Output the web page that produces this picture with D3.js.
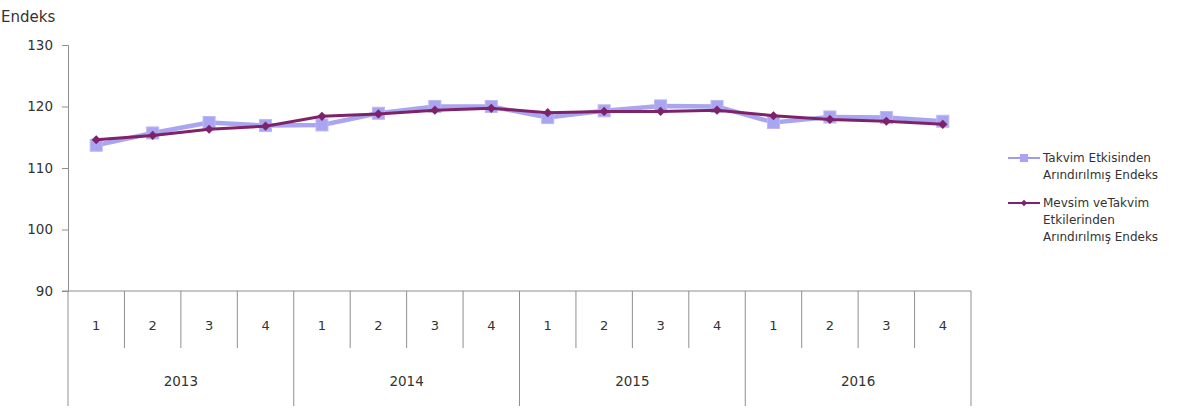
<!DOCTYPE html>
<html>
<head>
<meta charset="utf-8">
<script src="https://cdn.jsdelivr.net/npm/d3@7/dist/d3.min.js"></script>
<style>
  html, body { margin: 0; padding: 0; background: #fff; }
  svg { display: block; }
  text { font-family: "DejaVu Sans", Verdana, sans-serif; fill: #333; }
</style>
</head>
<body>
<svg id="chart" width="1200" height="410"></svg>
<script>
// ---- data ----
const quarters = ["1","2","3","4","1","2","3","4","1","2","3","4","1","2","3","4"];
const years = ["2013","2014","2015","2016"];
const takvimValues = [113.7, 115.7, 117.4, 116.9, 117.0, 118.9, 120.0, 120.0, 118.2, 119.3, 120.1, 120.0, 117.4, 118.3, 118.2, 117.6];
const mevsimValues = [114.6, 115.3, 116.3, 116.8, 118.4, 118.8, 119.4, 119.7, 119.0, 119.2, 119.2, 119.4, 118.5, 117.9, 117.6, 117.1];
const yTicks = [90, 100, 110, 120, 130];
const yTitle = "Endeks";
const seriesNames = [
  ["Takvim Etkisinden", "Arındırılmış Endeks"],
  ["Mevsim veTakvim", "Etkilerinden", "Arındırılmış Endeks"]
];

// ---- layout ----
const svg = d3.select("#chart");
const plotLeft = 68, plotRight = 971, plotTop = 45, plotBottom = 291;
const idx = d3.range(quarters.length);

const x = d3.scaleBand().domain(idx).range([plotLeft, plotRight]).padding(0);
const y = d3.scaleLinear().domain([90, 130]).range([plotBottom, plotTop]);

const axisColor = "#8f8f8f";
const fontFam = "DejaVu Sans, Verdana, sans-serif";

// y axis
const yAxis = svg.append("g").attr("transform", `translate(${plotLeft},0)`)
  .call(d3.axisLeft(y).tickValues(yTicks).tickSize(6).tickPadding(9));
yAxis.select(".domain").attr("stroke", axisColor);
yAxis.selectAll(".tick line").attr("stroke", axisColor);
yAxis.selectAll(".tick text").attr("font-size", 13.5).attr("fill", "#333")
  .style("font-family", fontFam);

svg.append("text").attr("x", 1).attr("y", 22).attr("font-size", 15).text(yTitle);

// x axis baseline
svg.append("line").attr("x1", plotLeft - 6).attr("x2", plotRight).attr("y1", plotBottom).attr("y2", plotBottom)
  .attr("stroke", axisColor);

// category separators
const shortBottom = 348, longBottom = 406;
idx.forEach(i => {
  const xs = x(i);
  const isYear = i % 4 === 0;
  svg.append("line").attr("x1", xs).attr("x2", xs).attr("y1", plotBottom)
    .attr("y2", isYear ? longBottom : shortBottom).attr("stroke", axisColor);
});
svg.append("line").attr("x1", plotRight).attr("x2", plotRight).attr("y1", plotBottom).attr("y2", longBottom)
  .attr("stroke", axisColor);

// quarter labels
svg.append("g").selectAll("text").data(quarters).join("text")
  .attr("x", (d, i) => x(i) + x.bandwidth() / 2)
  .attr("y", 330).attr("text-anchor", "middle").attr("font-size", 13).text(d => d);

// year labels
svg.append("g").selectAll("text").data(years).join("text")
  .attr("x", (d, j) => (x(j * 4) + x(j * 4 + 3) + x.bandwidth()) / 2)
  .attr("y", 386).attr("text-anchor", "middle").attr("font-size", 13.5).text(d => d);

const cx = i => x(i) + x.bandwidth() / 2;
const line = d3.line().x((d, i) => cx(i)).y(d => y(d));

const lightColor = "#a09bee";
const lightFill = "#aaa5f0";
const darkColor = "#7e2369";

// light series
svg.append("path").datum(takvimValues).attr("d", line)
  .attr("fill", "none").attr("stroke", lightColor).attr("stroke-width", 4.5).attr("opacity", 0.9);
svg.append("g").selectAll("rect").data(takvimValues).join("rect")
  .attr("x", (d, i) => cx(i) - 6).attr("y", d => y(d) - 6)
  .attr("width", 12).attr("height", 12)
  .attr("fill", lightFill).attr("stroke", "#bcb8f4").attr("stroke-width", 1);

// dark series
svg.append("path").datum(mevsimValues).attr("d", line)
  .attr("fill", "none").attr("stroke", darkColor).attr("stroke-width", 3);
svg.append("g").selectAll("path").data(mevsimValues).join("path")
  .attr("d", d3.symbol().type(d3.symbolSquare).size(42)())
  .attr("transform", (d, i) => `translate(${cx(i)},${y(d)}) rotate(45)`)
  .attr("fill", darkColor);

// legend
const legend = svg.append("g");
const lg = [
  { names: seriesNames[0], yLine: 158, type: "light" },
  { names: seriesNames[1], yLine: 203, type: "dark" }
];
lg.forEach(item => {
  const g = legend.append("g");
  if (item.type === "light") {
    g.append("line").attr("x1", 1008).attr("x2", 1040).attr("y1", item.yLine).attr("y2", item.yLine)
      .attr("stroke", lightColor).attr("stroke-width", 2);
    g.append("rect").attr("x", 1020).attr("y", item.yLine - 4).attr("width", 8).attr("height", 8)
      .attr("fill", lightFill);
  } else {
    g.append("line").attr("x1", 1008).attr("x2", 1040).attr("y1", item.yLine).attr("y2", item.yLine)
      .attr("stroke", darkColor).attr("stroke-width", 2);
    g.append("path").attr("d", d3.symbol().type(d3.symbolSquare).size(20)())
      .attr("transform", `translate(1024,${item.yLine}) rotate(45)`).attr("fill", darkColor);
  }
  item.names.forEach((t, k) => {
    g.append("text").attr("x", 1043).attr("y", item.yLine + 4 + k * 17)
      .attr("font-size", 12).text(t);
  });
});
</script>
</body>
</html>
